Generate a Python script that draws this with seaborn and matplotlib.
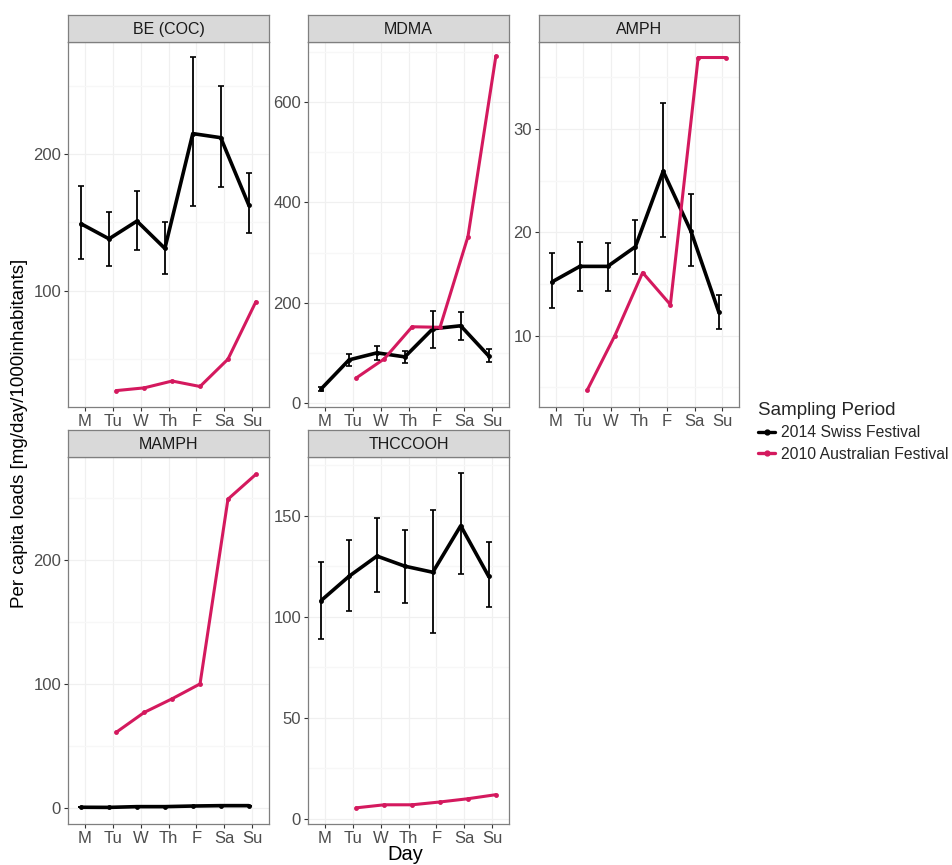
import numpy as np
import pandas as pd
import matplotlib
matplotlib.use("Agg")
import matplotlib.pyplot as plt
from matplotlib.lines import Line2D
import seaborn as sns

days = ["M", "Tu", "W", "Th", "F", "Sa", "Su"]
panels = ["BE (COC)", "MDMA", "AMPH", "MAMPH", "THCCOOH"]
series_names = ["2014 Swiss Festival", "2010 Australian Festival"]

# 2014 Swiss Festival: mean, lower, upper
be_swiss = [149, 138, 151, 131, 215, 212, 163]
be_swiss_lo = [123, 118, 130, 112, 162, 176, 142]
be_swiss_hi = [177, 158, 173, 150, 271, 250, 186]
mdma_swiss = [28, 86, 100, 92, 148, 154, 94]
mdma_swiss_lo = [24, 74, 86, 80, 110, 126, 82]
mdma_swiss_hi = [32, 98, 114, 104, 184, 182, 108]
amph_swiss = [15.2, 16.7, 16.7, 18.6, 25.9, 20.1, 12.3]
amph_swiss_lo = [12.7, 14.3, 14.3, 16.0, 19.5, 16.7, 10.6]
amph_swiss_hi = [18.0, 19.1, 19.0, 21.2, 32.5, 23.7, 13.9]
mamph_swiss = [0.5, 0.4, 1.0, 1.0, 1.5, 1.8, 1.8]
mamph_swiss_lo = [0.5, 0.4, 1.0, 1.0, 1.5, 1.8, 1.8]
mamph_swiss_hi = [0.5, 0.4, 1.0, 1.0, 1.5, 1.8, 1.8]
thc_swiss = [108, 120, 130, 125, 122, 145, 120]
thc_swiss_lo = [89, 103, 112, 107, 92, 121, 105]
thc_swiss_hi = [127, 138, 149, 143, 153, 171, 137]

# 2010 Australian Festival (no Monday sample)
be_aus = [np.nan, 27, 29, 34, 30, 50, 92]
mdma_aus = [np.nan, 50, 88, 152, 151, 332, 692]
amph_aus = [np.nan, 4.7, 10.0, 16.1, 13.0, 36.9, 36.9]
mamph_aus = [np.nan, 61, 77, 88, 100, 249, 269]
thc_aus = [np.nan, 5.5, 7, 7, 8.4, 10, 12]

swiss = {"BE (COC)": (be_swiss, be_swiss_lo, be_swiss_hi),
         "MDMA": (mdma_swiss, mdma_swiss_lo, mdma_swiss_hi),
         "AMPH": (amph_swiss, amph_swiss_lo, amph_swiss_hi),
         "MAMPH": (mamph_swiss, mamph_swiss_lo, mamph_swiss_hi),
         "THCCOOH": (thc_swiss, thc_swiss_lo, thc_swiss_hi)}
aus = {"BE (COC)": be_aus, "MDMA": mdma_aus, "AMPH": amph_aus,
       "MAMPH": mamph_aus, "THCCOOH": thc_aus}

yticks = {"BE (COC)": [100, 200], "MDMA": [0, 200, 400, 600],
          "AMPH": [10, 20, 30], "MAMPH": [0, 100, 200],
          "THCCOOH": [0, 50, 100, 150]}
ylims = {"BE (COC)": (15, 282), "MDMA": (-8, 720), "AMPH": (3.1, 38.4),
         "MAMPH": (-13, 283), "THCCOOH": (-2.5, 179)}

colors = {"2014 Swiss Festival": "#000000", "2010 Australian Festival": "#D4195E"}
dodge = {"2014 Swiss Festival": -0.13, "2010 Australian Festival": 0.13}

rows = []
for p in panels:
    m, lo, hi = swiss[p]
    for i, d in enumerate(days):
        rows.append(dict(panel=p, day=d, idx=i, series=series_names[0], value=m[i], lo=lo[i], hi=hi[i]))
        rows.append(dict(panel=p, day=d, idx=i, series=series_names[1], value=aus[p][i], lo=np.nan, hi=np.nan))
df = pd.DataFrame(rows).dropna(subset=["value"])
df["xpos"] = df["idx"] + df["series"].map(dodge)

sns.set_theme(style="white")
plt.rcParams["font.family"] = ["Liberation Sans", "DejaVu Sans"]

W, H = 952, 865
fig = plt.figure(figsize=(W / 100, H / 100), dpi=100)

def px_axes(x0, y0, x1, y1):
    return fig.add_axes([x0 / W, 1 - y1 / H, (x1 - x0) / W, (y1 - y0) / H])

boxes = {"BE (COC)": (68, 42, 269, 407), "MDMA": (308, 42, 509, 407),
         "AMPH": (539, 42, 739, 407), "MAMPH": (68, 457, 269, 824),
         "THCCOOH": (308, 457, 509, 824)}

for p in panels:
    x0, y0, x1, y1 = boxes[p]
    ax = px_axes(x0, y0, x1, y1)
    sub = df[df.panel == p]
    for i in range(len(days)):
        ax.axvline(i, color="#F0F0F0", lw=0.9, zorder=0)
    yt = yticks[p]
    step = yt[1] - yt[0]
    for v in np.arange(yt[0] - step / 2, yt[-1] + step, step / 2):
        ax.axhline(v, color="#F0F0F0" if v in yt else "#F7F7F7", lw=0.9, zorder=0)
    for s in series_names:
        ss = sub[sub.series == s]
        lw = 2.6 if s == series_names[0] else 2.2
        sns.lineplot(data=ss, x="xpos", y="value", ax=ax, color=colors[s], lw=lw,
                     marker="o", markersize=3.5, markeredgewidth=0, sort=True,
                     estimator=None, legend=False, zorder=3)
        if s == series_names[0]:
            ax.errorbar(ss["xpos"], ss["value"],
                        yerr=[ss["value"] - ss["lo"], ss["hi"] - ss["value"]],
                        fmt="none", ecolor="black", elinewidth=1.3, capsize=2.5,
                        capthick=1.2, zorder=4)
    ax.set_xlim(-0.6, 6.6)
    ax.set_ylim(*ylims[p])
    ax.set_xticks(range(len(days)))
    ax.set_xticklabels(days)
    ax.set_yticks(yt)
    ax.set_xlabel("")
    ax.set_ylabel("")
    ax.tick_params(axis="both", which="major", length=3, width=0.8, color="#333333",
                   labelsize=12, labelcolor="#4D4D4D", pad=2, bottom=True, left=True)
    for sp in ax.spines.values():
        sp.set_color("#7F7F7F")
        sp.set_linewidth(0.9)
    ax.set_facecolor("white")
    sax = px_axes(x0, y0 - 27, x1, y0)
    sax.set_facecolor("#D9D9D9")
    sax.set_xticks([])
    sax.set_yticks([])
    for sp in sax.spines.values():
        sp.set_color("#7F7F7F")
        sp.set_linewidth(0.9)
    sax.text(0.5, 0.45, p, ha="center", va="center", fontsize=11.5, color="#1A1A1A",
             transform=sax.transAxes)

fig.text(20 / W, 1 - 433 / H, "Per capita loads [mg/day/1000inhabitants]",
         rotation=90, ha="center", va="center", fontsize=13.5, color="black")
fig.text(405 / W, 1 - 855 / H, "Day", ha="center", va="center", fontsize=14.5, color="black")

handles = [Line2D([0], [0], color=colors[s], lw=2.4, marker="o", markersize=3.5) for s in series_names]
leg = fig.legend(handles, series_names, title="Sampling Period", loc="upper left",
                 bbox_to_anchor=(758 / W, 1 - 402 / H), frameon=False,
                 fontsize=11.3, title_fontsize=13.5, handlelength=1.1, handletextpad=0.35,
                 labelspacing=0.4, borderaxespad=0, borderpad=0)
leg._legend_box.align = "left"

fig.savefig("out.png", dpi=100, facecolor="white")
